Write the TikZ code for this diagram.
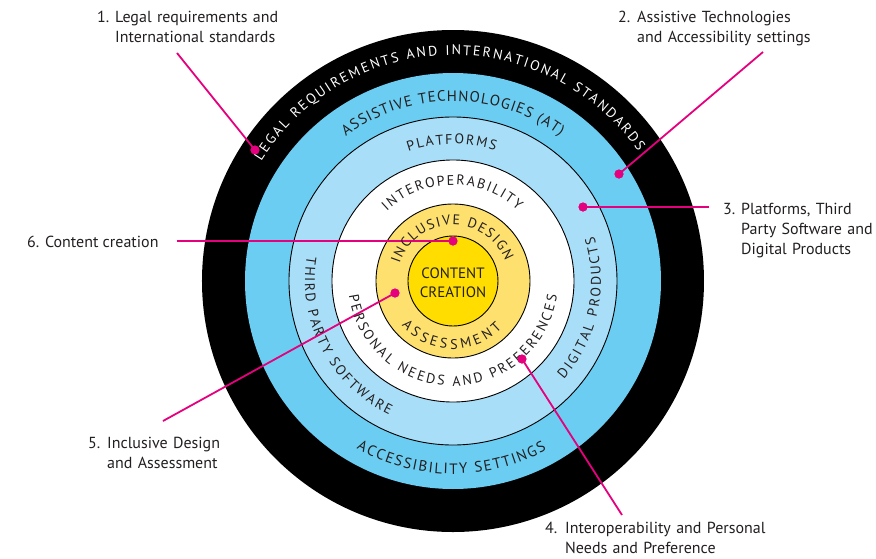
\documentclass[tikz,border=0pt]{standalone}
\usepackage{fontspec}
\setmainfont{PT Sans}
\usetikzlibrary{decorations.text}
\definecolor{atblue}{HTML}{6BCDF2}
\definecolor{platblue}{HTML}{A9DEF8}
\definecolor{ylight}{HTML}{FEE06E}
\definecolor{ygold}{HTML}{FFDD00}
\definecolor{mag}{HTML}{E5007D}
\definecolor{ink}{HTML}{231F20}
\newcommand\lblfont{\fontsize{16}{20}\selectfont}
\newcommand\ringtext[6]{\path[decorate,decoration={text along path,text color=#1,text={|\fontsize{#2}{#2}\selectfont|#6},text align=fit to path}] (#4:#3pt) arc[start angle=#4,end angle=#5,radius=#3pt];}
\begin{document}
\begin{tikzpicture}[x=1pt,y=1pt,
  ring/.style={draw=black, line width=0.9pt},
  lbl/.style={font=\lblfont, text=ink, inner sep=0pt, anchor=base west},
  lbltext/.style={lbl, align=left, text width=260pt},
  dotn/.style={circle, fill=mag, inner sep=0pt, minimum size=9pt},
  callout/.style={draw=mag, line width=1.8pt}]
\useasboundingbox (-453,-277) rectangle (423,281);
% rings
\fill[black] (0,0) circle[radius=251];
\fill[atblue] (0,0) circle[radius=208];
\filldraw[fill=platblue, ring] (0,0) circle[radius=164];
\filldraw[fill=white, ring] (0,0) circle[radius=121];
\filldraw[fill=ylight, ring] (0,0) circle[radius=77];
\filldraw[fill=ygold, ring] (0,0) circle[radius=45];
\node[font=\fontsize{15}{19}\selectfont, align=center, text=ink, inner sep=0pt] (cc) at (0,-1.5) {CONTENT\\CREATION};
% callout ends and dots
\coordinate (e1) at (-276,228);
\coordinate (e2) at (310,229);
\coordinate (e3) at (256,74);
\coordinate (e4) at (169,-234);
\coordinate (e5) at (-290,-140);
\coordinate (e6) at (-276,40);
\node[dotn] (d1) at (-198,131) {};
\node[dotn] (d2) at (166,107) {};
\node[dotn] (d3) at (130,74) {};
\node[dotn] (d4) at (69,-78) {};
\node[dotn] (d5) at (-58,-12) {};
\node[dotn] (d6) at (0,40) {};
\draw[callout] (e1) -- (d1.center);
\draw[callout] (e2) -- (d2.center);
\draw[callout] (e3) -- (d3.center);
\draw[callout] (e4) -- (d4.center);
\draw[callout] (e5) -- (d5.center);
\draw[callout] (e6) -- (d6.center);
% ring texts
\ringtext{white}{14}{226}{148}{35}{LEGAL REQUIREMENTS AND INTERNATIONAL STANDARDS}
\ringtext{ink}{15}{180}{126.5}{53.5}{ASSISTIVE TECHNOLOGIES (AT)}
\ringtext{ink}{15}{193}{240}{299}{ACCESSIBILITY SETTINGS}
\ringtext{ink}{14}{137}{109}{72}{PLATFORMS}
\ringtext{ink}{14}{148}{170.5}{244.5}{THIRD PARTY SOFTWARE}
\ringtext{ink}{14}{148}{-41.5}{17.5}{DIGITAL PRODUCTS}
\ringtext{ink}{14}{96}{133.5}{47.5}{INTEROPERABILITY}
\ringtext{ink}{14}{105}{188}{352}{PERSONAL NEEDS AND PREFERENCES}
\ringtext{ink}{14}{56}{162}{21}{INCLUSIVE DESIGN}
\ringtext{ink}{14}{68}{221}{316}{ASSESSMENT}
\node[dotn] at (d1) {};
\node[dotn] at (d2) {};
\node[dotn] at (d3) {};
\node[dotn] at (d4) {};
\node[dotn] at (d5) {};
\node[dotn] at (d6) {};
% labels
\node[lbl] (n1) at (-356,259) {1.};
\node[lbltext] (t1) at (-338,259) {Legal requirements and\\International standards};
\node[lbl] (n2) at (165,259) {2.};
\node[lbltext] (t2) at (184,259) {Assistive Technologies\\and Accessibility settings};
\node[lbl] (n3) at (270,67) {3.};
\node[lbltext] (t3) at (288,67) {Platforms, Third\\Party Software and\\Digital Products};
\node[lbl] (n4) at (92,-252) {4.};
\node[lbltext] (t4) at (112,-252) {Interoperability and Personal\\Needs and Preference};
\node[lbl] (n5) at (-365,-167) {5.};
\node[lbltext] (t5) at (-346,-167) {Inclusive Design\\and Assessment};
\node[lbl] (t6) at (-426,34) {6. Content creation};
\end{tikzpicture}
\end{document}
